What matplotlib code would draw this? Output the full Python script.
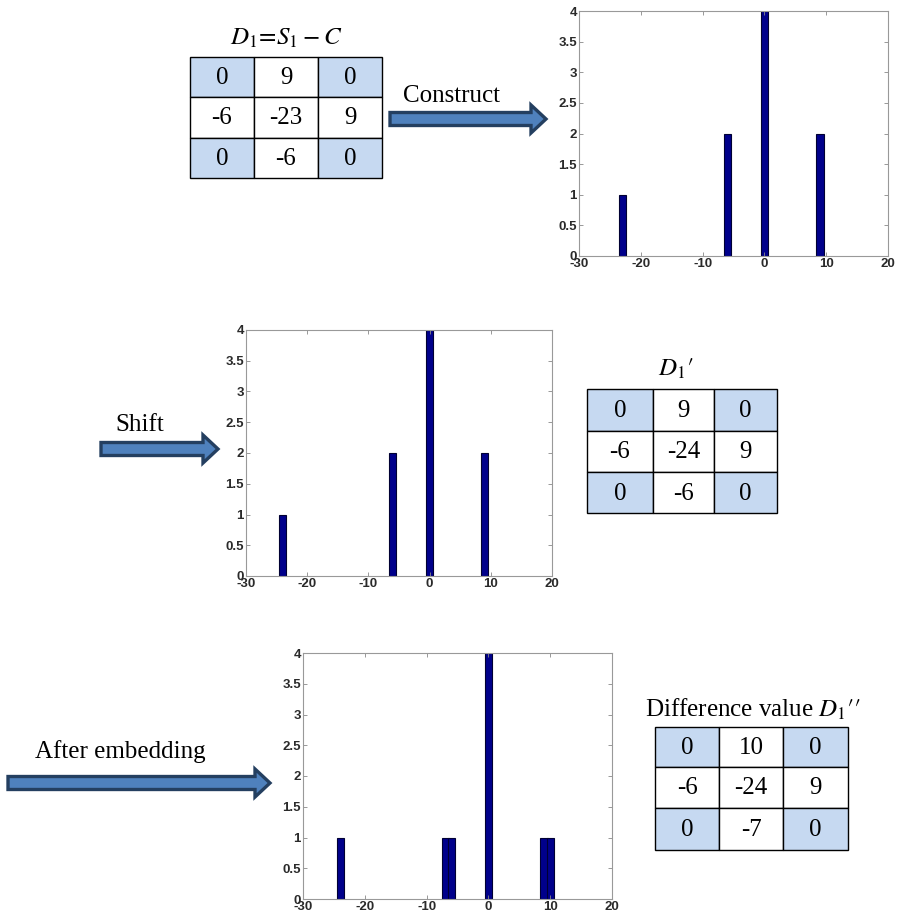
import numpy as np
import matplotlib
matplotlib.use("Agg")
import matplotlib.pyplot as plt
from matplotlib.patches import Rectangle, FancyArrow

plt.rcParams["mathtext.fontset"] = "stix"
plt.rcParams["axes.unicode_minus"] = False

# difference matrices at each step
d1 = [[0, 9, 0], [-6, -23, 9], [0, -6, 0]]
d1_shift = [[0, 9, 0], [-6, -24, 9], [0, -6, 0]]
d1_embed = [[0, 10, 0], [-6, -24, 9], [0, -7, 0]]

titles = [r"$D_1\!=\!S_1 - C$", r"$D_1{\prime}$", r"Difference value $D_1{\prime\prime}$"]
arrow_labels = ["Construct", "Shift", "After embedding"]
x_ticks = [-30, -20, -10, 0, 10, 20]
y_ticks = [0, 0.5, 1, 1.5, 2, 2.5, 3, 3.5, 4]
y_tick_labels = ["0", "0.5", "1", "1.5", "2", "2.5", "3", "3.5", "4"]

W, H = 897, 919
fig = plt.figure(figsize=(W / 100, H / 100), dpi=100)

# overlay in pixel coords for tables / arrows / text
ov = fig.add_axes([0, 0, 1, 1], zorder=0)
ov.set_xlim(0, W)
ov.set_ylim(H, 0)
ov.axis("off")

serif = "Liberation Serif"
blue_cell = "#C6D9F1"
fs = 18


def draw_table(mat, cols, rows, title, title_xy):
    for i in range(3):
        for j in range(3):
            x0, x1 = cols[j], cols[j + 1]
            y0, y1 = rows[i], rows[i + 1]
            fc = blue_cell if (i != 1 and j != 1) else "white"
            ov.add_patch(Rectangle((x0, y0), x1 - x0, y1 - y0, facecolor=fc,
                                   edgecolor="black", lw=1.0))
            ov.text((x0 + x1) / 2, (y0 + y1) / 2 + 1, str(mat[i][j]), ha="center",
                    va="center", fontsize=fs, family=serif)
    ov.text(title_xy[0], title_xy[1], title, ha="center", va="center",
            fontsize=fs, family=serif)


def draw_arrow(x0, x1, y, label, label_xy):
    ov.add_patch(FancyArrow(x0, y, x1 - x0, 0, width=13, head_width=28,
                            head_length=15, length_includes_head=True,
                            facecolor="#4F81BD", edgecolor="#243F60", lw=2.4))
    ov.text(label_xy[0], label_xy[1], label, ha="left", va="center",
            fontsize=fs, family=serif)


def draw_hist(mat, l, t, r, b):
    ax = fig.add_axes([l / W, 1 - b / H, (r - l) / W, (b - t) / H], zorder=1)
    vals, counts = np.unique(np.array(mat).ravel(), return_counts=True)
    ax.bar(vals, counts, width=1.15, color="#00008B", edgecolor="#000033", lw=0.8)
    ax.set_xlim(-30, 20)
    ax.set_ylim(0, 4)
    ax.set_xticks(x_ticks)
    ax.set_yticks(y_ticks)
    ax.set_yticklabels(y_tick_labels)
    ax.tick_params(direction="in", top=True, right=True, length=3, width=0.6,
                   labelsize=9.5, colors="#888888", labelcolor="#2a2a2a", pad=1.5)
    for lab in ax.get_xticklabels() + ax.get_yticklabels():
        lab.set_family("Liberation Sans")
        lab.set_fontweight("bold")
    for s in ax.spines.values():
        s.set_color("#999999")
        s.set_linewidth(0.8)
    return ax


# top row
draw_table(d1, [190, 254, 318, 382], [57, 97, 138, 178], titles[0], (286, 38))
draw_arrow(390, 546, 119, arrow_labels[0], (403, 96))
draw_hist(d1, 579, 11, 888, 256)

# middle row
draw_hist(d1_shift, 246, 330, 552, 576)
draw_arrow(101, 218, 449, arrow_labels[1], (115, 425))
draw_table(d1_shift, [587, 653, 714, 777], [389, 431, 472, 513], titles[1], (676, 369))

# bottom row
draw_hist(d1_embed, 303, 653, 612, 899)
draw_arrow(8, 270, 783, arrow_labels[2], (35, 752))
draw_table(d1_embed, [655, 719, 783, 848], [727, 767, 808, 850], titles[2], (753, 709))

fig.savefig("out.png", dpi=100)
